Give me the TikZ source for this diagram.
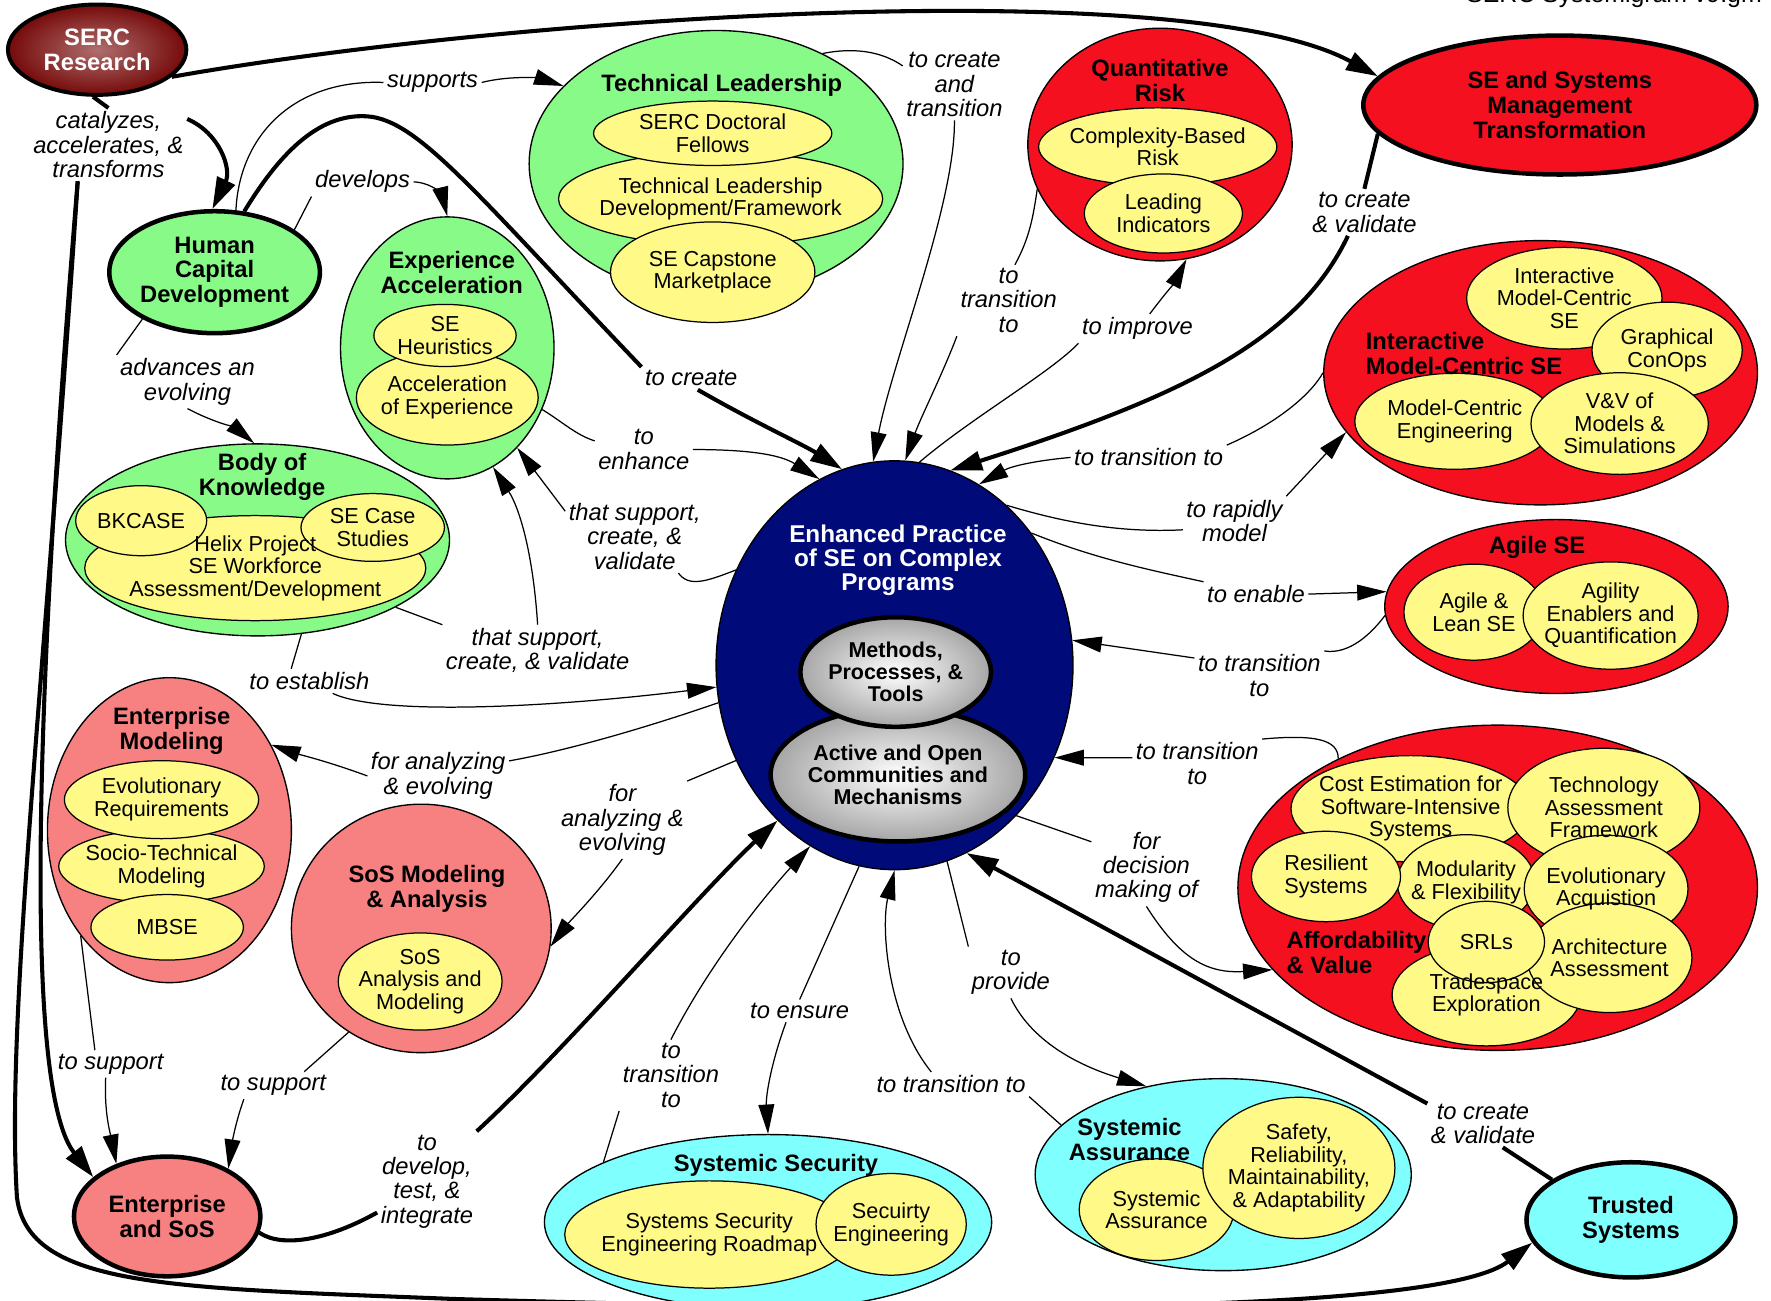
\documentclass[tikz,border=0pt]{standalone}
\usepackage{fontspec}
\setmainfont{Liberation Sans}
\usetikzlibrary{arrows.meta,shapes.geometric}
\pgfdeclarelayer{bg}
\pgfsetlayers{bg,main}
\definecolor{cgreen}{RGB}{136,250,136}
\definecolor{cyellow}{RGB}{255,250,136}
\definecolor{cred}{RGB}{245,16,32}
\definecolor{cpink}{RGB}{247,128,128}
\definecolor{ccyan}{RGB}{128,255,255}
\definecolor{cnavy}{RGB}{0,10,120}
\definecolor{cserc}{RGB}{118,10,10}
\definecolor{cserclight}{RGB}{175,110,110}
\newcommand{\labfont}{\fontsize{21}{21.5}\selectfont\itshape}
\newcommand{\ttlfont}{\fontsize{21}{22}\selectfont\bfseries}
\newcommand{\innfont}{\fontsize{19.2}{20}\selectfont}
\newcommand{\eptfont}{\fontsize{21.5}{21.5}\selectfont\bfseries}
\newcommand{\gryfont}{\fontsize{19}{19.5}\selectfont\bfseries}
% inner ellipse: name, x, y, width, height, text
\newcommand{\IN}[6]{%
  \begin{pgfonlayer}{bg}\node[inn, minimum width=#4pt, minimum height=#5pt] (#1) at (#2,#3) {};\end{pgfonlayer}%
  \node[innt] (#1t) at (#2,#3) {#6};}
% container ellipse: style, name, x, y, width, height
\newcommand{\CN}[6]{%
  \begin{pgfonlayer}{bg}\node[#1, minimum width=#5pt, minimum height=#6pt] (#2) at (#3,#4) {};\end{pgfonlayer}}
\begin{document}
\begin{tikzpicture}[x=1pt,y=-1pt,
  box/.style={ellipse, draw=black, line width=1.2pt, inner sep=0pt, align=center},
  grn/.style={box, fill=cgreen}, rd/.style={box, fill=cred},
  pnk/.style={box, fill=cpink}, cyn/.style={box, fill=ccyan},
  inn/.style={box, fill=cyellow, line width=1.1pt},
  innt/.style={font=\innfont, align=center, inner sep=0pt},
  gry/.style={box, line width=4pt, shade, inner color=white, outer color=black!35, font=\gryfont},
  ttl/.style={font=\ttlfont, align=center, inner sep=1pt},
  lab/.style={font=\labfont, align=center, inner sep=3pt},
  cthin/.style={line width=1.1pt},
  cthinA/.style={cthin, -{Triangle[length=26pt,width=14pt]}},
  thk/.style={line width=3.6pt},
  thkA/.style={thk, -{Triangle[length=28pt,width=17pt]}}]
\useasboundingbox (0,0) rectangle (1568,1151);
\begin{pgfonlayer}{bg}\fill[white] (0,0) rectangle (1568,1151);\end{pgfonlayer}

% ---------- nodes ----------
\node[box, line width=3.5pt, shade, inner color=cserclight, outer color=cserc, minimum width=158pt, minimum height=80pt, font=\ttlfont, text=white] (serc) at (86,44) {SERC\\Research};
\node[rd, line width=4pt, minimum width=348pt, minimum height=123pt, font=\ttlfont] (sem) at (1381,93) {SE and Systems\\Management\\Transformation};

\CN{grn}{tl}{634}{145}{331}{236}
\IN{tld}{638}{176}{287}{83}{Technical Leadership\\Development/Framework}
\IN{doc}{631}{118}{211}{57}{SERC Doctoral\\Fellows}
\IN{cap}{631}{241}{181}{89}{SE Capstone\\Marketplace}
\node[ttl] (tlT) at (639,76) {Technical Leadership};

\CN{rd}{qr}{1027}{128}{234}{206}
\IN{cbr}{1025}{130}{211}{69}{Complexity-Based\\Risk}
\IN{li}{1030}{189}{140}{70}{Leading\\Indicators}
\node[ttl] (qrT) at (1027,71) {Quantitative\\Risk};

\node[grn, line width=4pt, minimum width=179pt, minimum height=108pt, font=\ttlfont] (hcd) at (190,241) {Human\\Capital\\Development};

\CN{grn}{ea}{396}{308}{189}{232}
\IN{acc}{396}{352}{161}{84}{Acceleration\\of Experience}
\IN{heu}{394}{297}{126}{55}{SE\\Heuristics}
\node[ttl] (eaT) at (400,241) {Experience\\Acceleration};

\CN{grn}{bok}{228}{478}{340}{170}
\IN{helix}{226}{503}{302}{93}{Helix Project\\SE Workforce\\Assessment/Development}
\IN{bkc}{125}{461}{116}{62}{BKCASE}
\IN{secs}{330}{467}{127}{60}{SE Case\\Studies}
\node[ttl] (bokT) at (232,422) {Body of\\Knowledge};

\CN{pnk}{em}{150}{735}{216}{270}
\IN{stm}{143}{767}{182}{65}{Socio-Technical\\Modeling}
\IN{er}{143}{708}{172}{69}{Evolutionary\\Requirements}
\IN{mbse}{148}{821}{135}{58}{MBSE}
\node[ttl] (emT) at (152,647) {Enterprise\\Modeling};

\CN{pnk}{sosma}{373}{822}{230}{220}
\IN{sosam}{372}{869}{145}{86}{SoS\\Analysis and\\Modeling}
\node[ttl] (sosmaT) at (378,787) {SoS Modeling\\\& Analysis};

\node[pnk, line width=4pt, minimum width=165pt, minimum height=106pt, font=\ttlfont] (es) at (148,1077) {Enterprise\\and SoS};

\node[box, fill=cnavy, minimum width=316pt, minimum height=362pt] (ep) at (792,589) {};
\node[ttl, font=\eptfont, text=white] (epT) at (795,496) {Enhanced Practice\\of SE on Complex\\Programs};
\node[gry, minimum width=216pt, minimum height=118pt] (aoc) at (795,686) {Active and Open\\Communities and\\Mechanisms};
\node[gry, minimum width=160pt, minimum height=97pt] (mpt) at (793,595) {Methods,\\Processes, \&\\Tools};

\CN{rd}{imc}{1364}{330}{384}{234}
\IN{imcse}{1385}{264}{173}{90}{Interactive\\Model-Centric\\SE}
\IN{gco}{1476}{310}{133}{85}{Graphical\\ConOps}
\IN{mce}{1288}{373}{177}{85}{Model-Centric\\Engineering}
\IN{vv}{1434}{375}{157}{90}{V\&V of\\Models \&\\Simulations}
\node[ttl, align=left, anchor=west] (imcT) at (1208,313) {Interactive\\Model-Centric SE};

\CN{rd}{agile}{1378}{537}{304}{154}
\IN{als}{1305}{542}{124}{85}{Agile \&\\Lean SE}
\IN{aeq}{1426}{545}{155}{95}{Agility\\Enablers and\\Quantification}
\node[ttl] (agileT) at (1361,485) {Agile SE};

\CN{rd}{av}{1326}{786}{460}{288}
\IN{cost}{1249}{716}{212}{94}{Cost Estimation for\\Software-Intensive\\Systems}
\IN{taf}{1420}{715}{170}{105}{Technology\\Assessment\\Framework}
\IN{mod}{1298}{781}{122}{84}{Modularity\\\& Flexibility}
\IN{res}{1174}{776}{132}{80}{Resilient\\Systems}
\IN{evo}{1422}{787}{145}{95}{Evolutionary\\Acquistion}
\IN{trade}{1316}{881}{167}{90}{Tradespace\\Exploration}
\IN{arch}{1425}{848}{146}{97}{Architecture\\Assessment}
\IN{srl}{1316}{834}{103}{72}{SRLs}
\node[ttl, align=left, anchor=west] (avT) at (1138,843) {Affordability\\\& Value};

\CN{cyn}{ss}{680}{1082}{396}{155}
\IN{sser}{628}{1093}{256}{95}{Systems Security\\Engineering Roadmap}
\IN{seceng}{789}{1084}{133}{90}{Secuirty\\Engineering}
\node[ttl] (ssT) at (687,1032) {Systemic Security};

\CN{cyn}{sa}{1083}{1040}{333}{170}
\IN{sysa}{1024}{1071}{137}{90}{Systemic\\Assurance}
\IN{srma}{1150}{1034}{170}{125}{Safety,\\Reliability,\\Maintainability,\\\& Adaptability}
\node[ttl] (saT) at (1000,1009) {Systemic\\Assurance};

\node[cyn, line width=4pt, minimum width=185pt, minimum height=102pt, font=\ttlfont] (ts) at (1444,1080) {Trusted\\Systems};

\node[font=\fontsize{22}{22}\selectfont, anchor=base east, inner sep=0pt] (vers) at (1560,2) {SERC Systemigram v9.gm};

% ---------- labels ----------
\node[lab] (Lsup) at (383,73) {supports};
\node[lab] (Lcat) at (96,128) {catalyzes,\\accelerates, \&\\transforms};
\node[lab] (Ldev) at (321,161) {develops};
\node[lab] (Lcr1) at (612,335) {to create};
\node[lab] (Ladv) at (166,338) {advances an\\evolving};
\node[lab] (Lct) at (845,75) {to create\\and\\transition};
\node[lab] (Lqt) at (893,266) {to\\transition\\to};
\node[lab] (Limp) at (1007,291) {to improve};
\node[lab] (Lcv1) at (1208,188) {to create\\\& validate};
\node[lab] (Limt) at (1017,405) {to transition to};
\node[lab] (Lrap) at (1093,461) {to rapidly\\model};
\node[lab] (Len) at (1112,526) {to enable};
\node[lab] (Lagt) at (1115,598) {to transition\\to};
\node[lab] (Lavt) at (1060,676) {to transition\\to};
\node[lab] (Ldec) at (1015,768) {for\\decision\\making of};
\node[lab] (Lprov) at (895,861) {to\\provide};
\node[lab] (Lsat) at (842,960) {to transition to};
\node[lab] (Lens) at (708,895) {to ensure};
\node[lab] (Lsst) at (594,952) {to\\transition\\to};
\node[lab] (Lcv2) at (1313,995) {to create\\\& validate};
\node[lab] (Ldvl) at (378,1046) {to\\develop,\\test, \&\\integrate};
\node[lab] (Lsp1) at (98,942) {to support};
\node[lab] (Lsp2) at (242,961) {to support};
\node[lab] (Lan1) at (551,726) {for\\analyzing \&\\evolving};
\node[lab] (Lan2) at (388,687) {for analyzing\\\& evolving};
\node[lab] (Lest) at (274,603) {to establish};
\node[lab] (Ltscv) at (476,576) {that support,\\create, \& validate};
\node[lab] (Lts2) at (562,475) {that support,\\create, \&\\validate};
\node[lab] (Lenh) at (570,398) {to\\enhance};

% ---------- thick connectors ----------
\draw[thkA] (serc.-20) .. controls (450,15) and (1050,-25) .. (sem.171);
\draw[thk] (serc.-95) -- (Lcat.north);
\draw[thkA] (Lcat.18) .. controls (195,118) and (205,150) .. (hcd.92);
\draw[thkA] (Lcat.230) .. controls (45,450) and (10,950) .. (es.152);
\draw[thkA] (Lcat.230) .. controls (40,600) and (5,900) .. (15,1060) .. controls (25,1140) and (150,1140) .. (400,1150) .. controls (900,1165) and (1280,1160) .. (ts.-167);
\draw[thk] (hcd.64) .. controls (245,140) and (280,100) .. (325,103) .. controls (370,106) and (420,170) .. (Lcr1.north west);
\draw[thkA] (Lcr1.-60) .. controls (670,375) and (710,393) .. (ep.105);
\draw[thk] (sem.-171) -- (Lcv1.north);
\draw[thkA] (Lcv1.-125) .. controls (1150,300) and (1050,350) .. (ep.74);
\draw[thk] (es.-10) .. controls (250,1105) and (290,1098) .. (Ldvl.212);
\draw[thkA] (Ldvl.north east) .. controls (500,930) and (620,790) .. (ep.-127);
\draw[thk] (ts.153) -- (Lcv2.-50);
\draw[thkA] (Lcv2.160) -- (ep.-69);

% ---------- thin connectors ----------
\draw[cthin] (hcd.71) .. controls (212,120) and (260,70) .. (Lsup.west);
\draw[cthinA] (Lsup.east) .. controls (455,66) and (480,70) .. (tl.153);
\draw[cthin] (hcd.28) -- (Ldev.south west);
\draw[cthinA] (Ldev.east) .. controls (385,162) and (392,175) .. (ea.90);
\draw[cthin] (hcd.-147) -- (Ladv.north west);
\draw[cthinA] (Ladv.south) .. controls (185,372) and (210,380) .. (bok.92);
\draw[cthin] (tl.46) .. controls (755,42) and (780,45) .. (Lct.160);
\draw[cthinA] (Lct.south) .. controls (846,180) and (790,320) .. (ep.96);
\draw[cthin] (qr.-160) .. controls (915,190) and (912,210) .. (Lqt.80);
\draw[cthinA] (Lqt.south west) .. controls (835,330) and (815,370) .. (ep.87);
\draw[cthin] (ep.83) .. controls (860,370) and (930,330) .. (Limp.south west);
\draw[cthinA] (Limp.50) .. controls (1030,262) and (1040,250) .. (qr.-77);
\draw[cthin] (ep.55) .. controls (940,462) and (990,472) .. (Lrap.190);
\draw[cthinA] (Lrap.north east) -- (imc.-163);
\draw[cthin] (imc.180) .. controls (1160,350) and (1130,375) .. (Limt.north east);
\draw[cthinA] (Limt.west) .. controls (915,408) and (895,413) .. (ep.65);
\draw[cthin] (ep.44) .. controls (970,495) and (1020,505) .. (Len.north west);
\draw[cthinA] (Len.east) -- (agile.175);
\draw[cthin] (agile.-177) .. controls (1215,560) and (1195,580) .. (Lagt.north east);
\draw[cthinA] (Lagt.165) -- (ep.8);
\draw[cthin] (av.141) .. controls (1185,655) and (1165,650) .. (Lavt.north east);
\draw[cthinA] (Lavt.175) -- (ep.-30);
\draw[cthin] (ep.-51) -- (Ldec.155);
\draw[cthinA] (Ldec.south) .. controls (1045,850) and (1070,862) .. (av.-160);
\draw[cthin] (ep.-75) -- (Lprov.north west);
\draw[cthinA] (Lprov.south) .. controls (915,925) and (960,945) .. (sa.131);
\draw[cthin] (sa.163) -- (Lsat.south east);
\draw[cthinA] (Lsat.148) .. controls (785,900) and (780,820) .. (ep.-90);
\draw[cthin] (ep.-100) -- (Lens.north);
\draw[cthinA] (Lens.-140) .. controls (683,940) and (678,970) .. (ss.90);
\draw[cthin] (ss.160) -- (Lsst.south west);
\draw[cthinA] (Lsst.north) .. controls (630,850) and (680,790) .. (ep.-115);
\draw[cthin] (ep.-149) -- (Lan1.north east);
\draw[cthinA] (Lan1.south) .. controls (530,790) and (505,815) .. (sosma.-8);
\draw[cthin] (ep.-168) .. controls (570,645) and (500,665) .. (Lan2.12);
\draw[cthinA] (Lan2.west) .. controls (290,674) and (265,668) .. (em.40);
\draw[cthin] (bok.-65) -- (Lest.146);
\draw[cthinA] (Lest.-28) .. controls (340,635) and (500,625) .. (ep.-173);
\draw[cthin] (bok.-26) -- (Ltscv.north west);
\draw[cthinA] (Ltscv.north) .. controls (472,490) and (460,450) .. (ea.-69);
\draw[cthin] (ep.149) .. controls (625,515) and (610,520) .. (Lts2.-40);
\draw[cthinA] (Lts2.160) -- (ea.-55);
\draw[cthin] (ea.-33) .. controls (500,375) and (510,385) .. (Lenh.170);
\draw[cthinA] (Lenh.east) .. controls (660,398) and (690,402) .. (ep.112);
\draw[cthin] (em.-130) -- (Lsp1.139);
\draw[cthinA] (Lsp1.-110) .. controls (92,985) and (98,1005) .. (es.134);
\draw[cthin] (sosma.-125) -- (Lsp2.24);
\draw[cthinA] (Lsp2.205) .. controls (208,995) and (205,1015) .. (es.38);
\end{tikzpicture}
\end{document}
